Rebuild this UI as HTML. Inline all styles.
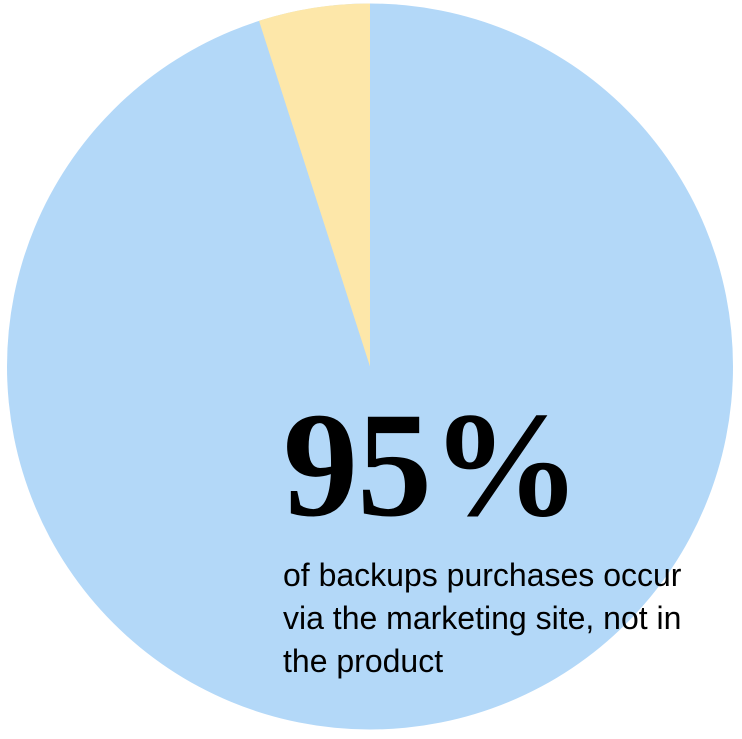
<!DOCTYPE html>
<html><head><style>
html,body{margin:0;padding:0;background:#fff;width:742px;height:739px;overflow:hidden;position:relative}
svg{position:absolute;left:0;top:0}
.big{position:absolute;left:283px;top:390px;font:bold 150px/1 "Liberation Serif",serif;color:#000;white-space:nowrap;letter-spacing:-1px}
.sub{position:absolute;left:283px;top:554px;font:32px/43px "Liberation Sans",sans-serif;color:#000;white-space:nowrap}
</style></head><body>
<svg width="742" height="739">
<circle cx="370" cy="366.5" r="363" fill="#b3d8f8"/>
<path d="M370 366.5 L370 3.5 A363 363 0 0 0 259 20.8 Z" fill="#fde7a9"/>
</svg>
<div class="big">95%</div>
<div class="sub">of backups purchases occur<br>via the marketing site, not in<br>the product</div>
</body></html>
